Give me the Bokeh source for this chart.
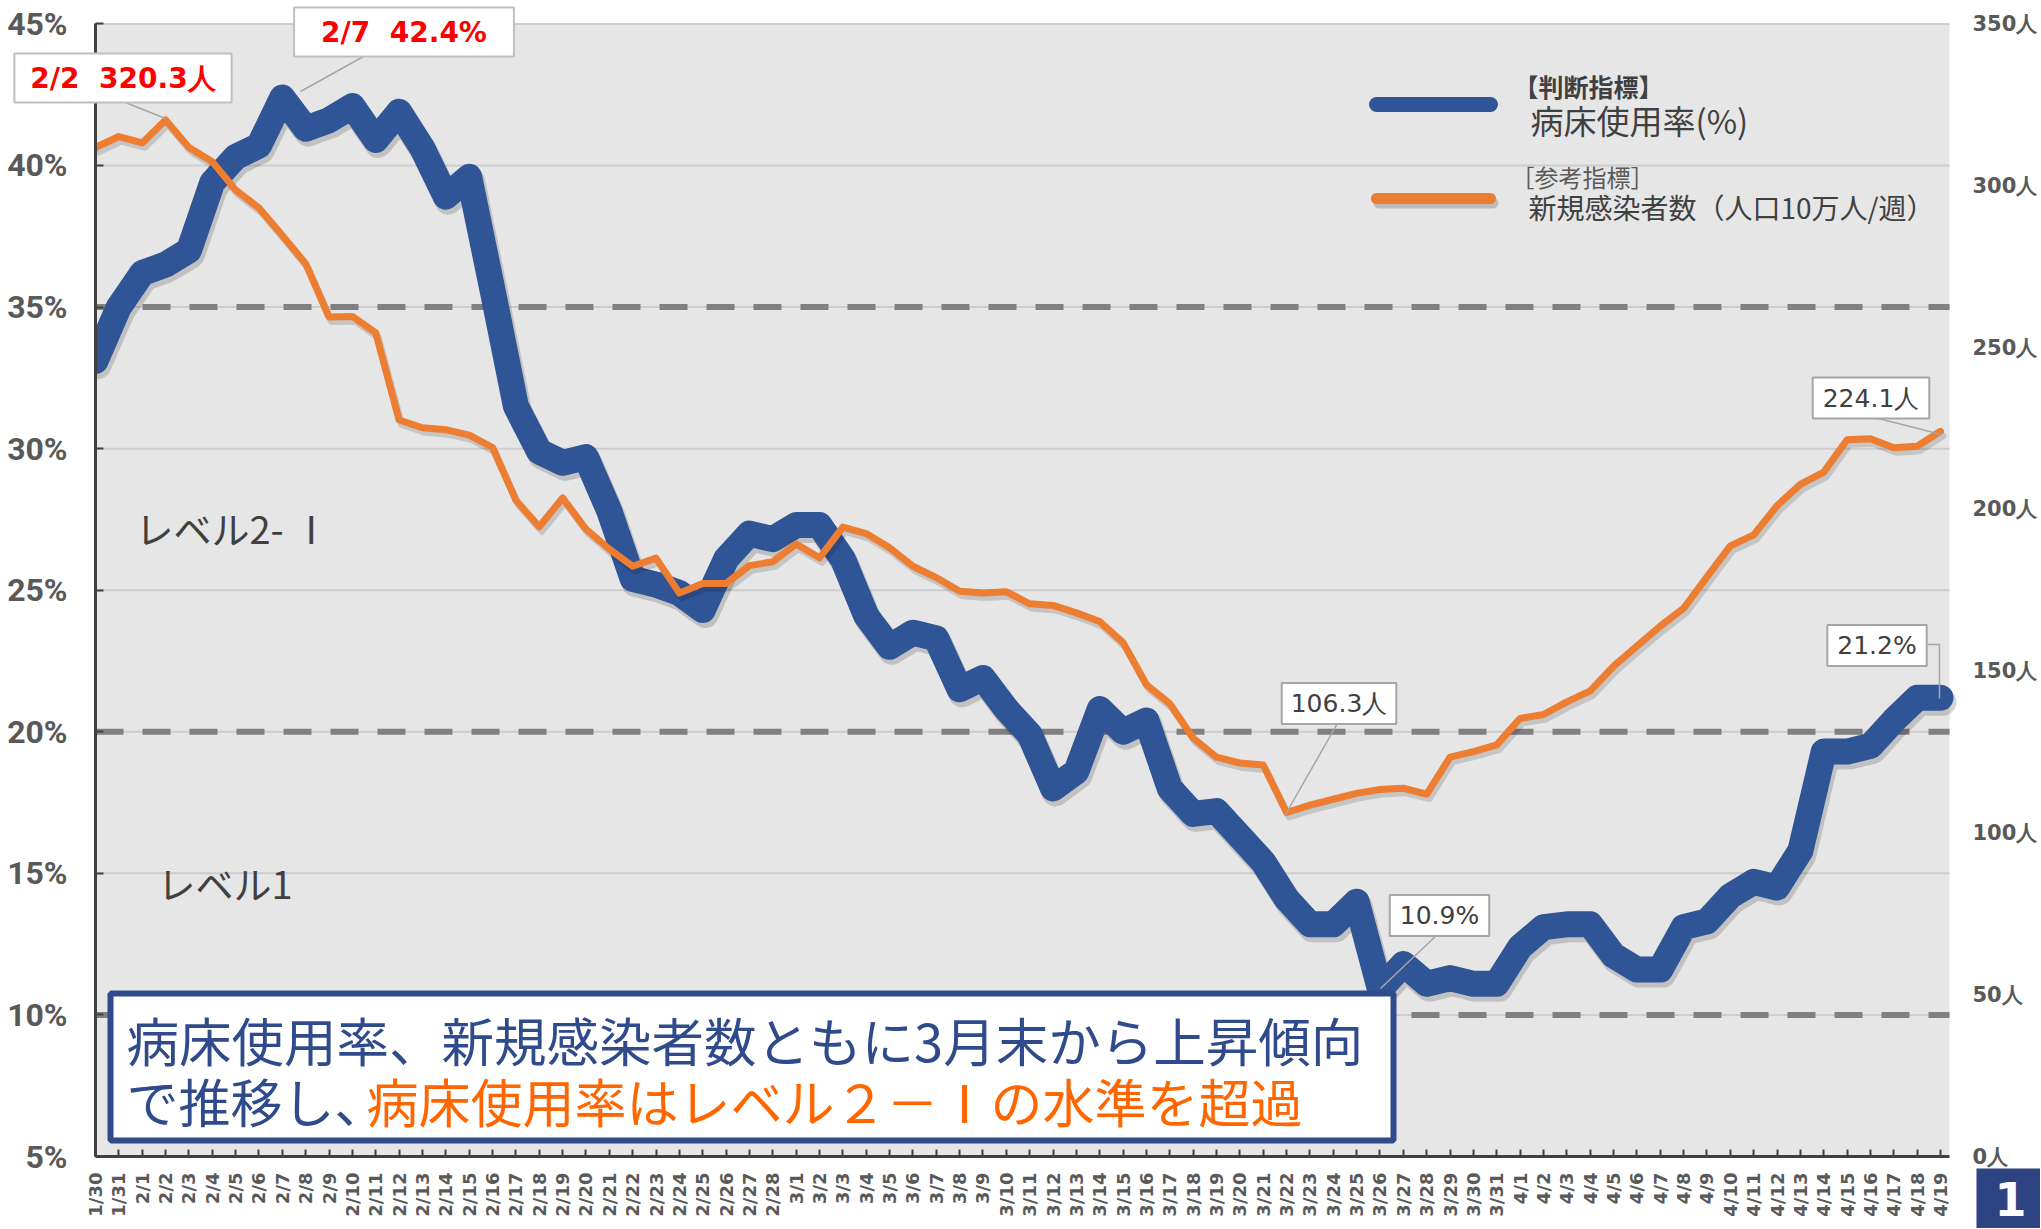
import math
from bokeh.plotting import figure
from bokeh.models import Range1d, LinearAxis, FixedTicker, Label, BoxAnnotation
from bokeh.embed import file_html
from bokeh.resources import INLINE

# ---------------- data ----------------
dates = ["1/30", "1/31",
         "2/1", "2/2", "2/3", "2/4", "2/5", "2/6", "2/7", "2/8", "2/9", "2/10",
         "2/11", "2/12", "2/13", "2/14", "2/15", "2/16", "2/17", "2/18", "2/19", "2/20",
         "2/21", "2/22", "2/23", "2/24", "2/25", "2/26", "2/27", "2/28",
         "3/1", "3/2", "3/3", "3/4", "3/5", "3/6", "3/7", "3/8", "3/9", "3/10",
         "3/11", "3/12", "3/13", "3/14", "3/15", "3/16", "3/17", "3/18", "3/19", "3/20",
         "3/21", "3/22", "3/23", "3/24", "3/25", "3/26", "3/27", "3/28", "3/29", "3/30", "3/31",
         "4/1", "4/2", "4/3", "4/4", "4/5", "4/6", "4/7", "4/8", "4/9", "4/10",
         "4/11", "4/12", "4/13", "4/14", "4/15", "4/16", "4/17", "4/18", "4/19"]

# 病床使用率 (%)
bed_rate = [33.1, 35.0, 36.2, 36.5, 37.0, 39.4, 40.3, 40.7, 42.4, 41.3,
            41.6, 42.1, 40.9, 41.9, 40.6, 38.9, 39.6, 35.6, 31.5, 29.9,
            29.5, 29.7, 27.8, 25.4, 25.2, 24.9, 24.3, 26.1, 27.0, 26.8,
            27.3, 27.3, 26.1, 24.1, 23.0, 23.5, 23.3, 21.5, 21.9, 20.8,
            19.9, 18.0, 18.6, 20.8, 20.0, 20.4, 18.0, 17.1, 17.2, 16.3,
            15.4, 14.1, 13.2, 13.2, 14.0, 10.9, 11.8, 11.1, 11.3, 11.1,
            11.1, 12.4, 13.1, 13.2, 13.2, 12.1, 11.6, 11.6, 13.1, 13.3,
            14.2, 14.7, 14.5, 15.8, 19.3, 19.3, 19.5, 20.4, 21.2, 21.2]

# 新規感染者数 (人口10万人/週)
new_cases = [311.8, 315.2, 313.2, 320.3, 311.8, 307.4, 298.7, 293.1, 284.6, 275.9,
             259.4, 259.6, 254.5, 227.6, 225.2, 224.6, 222.9, 219.1, 202.8, 194.6,
             203.5, 193.9, 187.7, 182.4, 184.9, 174.1, 177.1, 177.1, 182.6, 183.8,
             189.3, 185.0, 194.5, 192.5, 188.1, 182.4, 178.9, 174.7, 174.1, 174.5,
             170.8, 170.3, 168.0, 165.3, 158.8, 145.8, 139.9, 129.3, 123.4, 121.6,
             121.0, 106.3, 108.6, 110.4, 112.2, 113.4, 113.8, 112.0, 123.4, 125.1,
             127.2, 135.4, 136.6, 140.5, 143.9, 151.5, 157.7, 163.9, 169.4, 179.1,
             188.7, 192.1, 201.1, 207.7, 211.5, 221.5, 221.8, 219.0, 219.5, 224.1]

pct_ticks = [5, 10, 15, 20, 25, 30, 35, 40, 45]
people_ticks = [0, 50, 100, 150, 200, 250, 300, 350]
level_lines = [10, 20, 35]
PCT_MIN, PCT_MAX = 5, 45
PPL_MAX = 350

xs = list(range(len(dates)))

# ---------------- page geometry (pixels; the figure sits at the page origin) ----------------
W, H = 2040, 1228
AX_LEFT, AX_RIGHT = 95.0, 1949.0     # grey plot area, left / right
FIRST_PX, LAST_PX = 95.0, 1940.0     # first / last category
TOP_PX, BOT_PX = 23.4, 1156.0        # 45% / 5%
U = (LAST_PX - FIRST_PX) / (len(dates) - 1)        # px per category
V = (BOT_PX - TOP_PX) / (PCT_MAX - PCT_MIN)        # px per percent
K = PPL_MAX / (PCT_MAX - PCT_MIN)                  # people per percent


def X(px):
    return (px - FIRST_PX) / U


def Y(py):
    return PCT_MAX - (py - TOP_PX) / V


XBG = X(AX_RIGHT)
x0, x1 = X(0), X(W)
y0, y1 = Y(H), Y(0)

BLUE = "#2F5597"
ORANGE = "#ED7D31"
NAVY = "#2F4B8C"
TXT = "#404040"
AX = "#595959"
CJK = "Noto Sans CJK JP"

p = figure(width=W, height=H, title=None,
           x_range=Range1d(x0, x1), y_range=Range1d(y0, y1),
           output_backend="svg", toolbar_location=None,
           min_border=0, min_border_left=0, min_border_right=0,
           min_border_top=0, min_border_bottom=0,
           background_fill_color="white", border_fill_color="white",
           outline_line_color=None)

# shadow ranges: same scale shifted a few pixels right / down
sx, sy = 2.5 / U, 4.5 / V
p.extra_x_ranges = {"xs": Range1d(x0 - sx, x1 - sx)}
p.extra_y_ranges = {"people": Range1d((y0 - PCT_MIN) * K, (y1 - PCT_MIN) * K),
                    "ys": Range1d(y0 + sy, y1 + sy),
                    "ps": Range1d((y0 + sy - PCT_MIN) * K, (y1 + sy - PCT_MIN) * K)}

p.xgrid.visible = False
p.ygrid.visible = False

# grey plot area, grid lines and level lines
p.quad(left=[0], right=[XBG], bottom=[PCT_MIN], top=[PCT_MAX],
       fill_color="#E6E6E6", line_color=None)
p.segment(x0=[0] * len(pct_ticks), x1=[XBG] * len(pct_ticks),
          y0=pct_ticks, y1=pct_ticks, line_color="#CDCDCD", line_width=2)
p.segment(x0=[0] * len(level_lines), x1=[XBG] * len(level_lines),
          y0=level_lines, y1=level_lines, line_color="#808080",
          line_width=6, line_dash="28 19")

# left axis (percent)
ya = p.yaxis[0]
ya.fixed_location = 0
ya.bounds = (PCT_MIN, PCT_MAX)
ya.ticker = FixedTicker(ticks=pct_ticks)
ya.major_label_overrides = {t: f"{t}%" for t in pct_ticks}
ya.major_label_text_font = "Roboto"
ya.major_label_text_font_style = "bold"
ya.major_label_text_font_size = "32px"
ya.major_label_text_color = AX
ya.major_label_standoff = 28
ya.axis_line_color = TXT
ya.axis_line_width = 3
ya.major_tick_in = 8
ya.major_tick_out = 0
ya.major_tick_line_color = TXT
ya.major_tick_line_width = 2
ya.minor_tick_line_color = None

# bottom axis (dates)
xa = p.xaxis[0]
xa.fixed_location = PCT_MIN
xa.bounds = (0, XBG)
xa.ticker = FixedTicker(ticks=xs)
xa.major_label_overrides = {i: d for i, d in zip(xs, dates)}
xa.major_label_orientation = math.pi / 2
xa.major_label_text_font = "DejaVu Sans"
xa.major_label_text_font_style = "bold"
xa.major_label_text_font_size = "18px"
xa.major_label_text_color = AX
xa.major_label_standoff = 16
xa.axis_line_color = TXT
xa.axis_line_width = 3
xa.major_tick_in = 7
xa.major_tick_out = 0
xa.major_tick_line_color = TXT
xa.major_tick_line_width = 2
xa.minor_tick_line_color = None

# right axis (people)
ra = LinearAxis(y_range_name="people", ticker=FixedTicker(ticks=people_ticks),
                fixed_location=XBG, bounds=(0, PPL_MAX))
ra.major_label_overrides = {t: f"{t}人" for t in people_ticks}
ra.major_label_text_font = "DejaVu Sans"
ra.major_label_text_font_style = "bold"
ra.major_label_text_font_size = "21px"
ra.major_label_text_color = AX
ra.major_label_standoff = 23
ra.axis_line_color = None
ra.major_tick_line_color = None
ra.major_tick_in = 0
ra.major_tick_out = 0
ra.minor_tick_line_color = None
p.add_layout(ra, "right")

# data lines with soft shadows
p.line(xs, bed_rate, x_range_name="xs", y_range_name="ys", line_width=27,
       line_color="black", line_alpha=0.16, line_join="round", line_cap="round")
p.line(xs, bed_rate, line_width=26, line_color=BLUE,
       line_join="round", line_cap="round")
p.line(xs, new_cases, x_range_name="xs", y_range_name="ps", line_width=7,
       line_color="black", line_alpha=0.14, line_join="round", line_cap="round")
p.line(xs, new_cases, y_range_name="people", line_width=7, line_color=ORANGE,
       line_join="round", line_cap="round")

# keep the thick line from spilling left of the axis
p.quad(left=[x0], right=[0], bottom=[PCT_MIN], top=[PCT_MAX],
       fill_color="white", line_color=None)

# legend (manual)
p.segment(x0=[X(1376)], y0=[Y(104)], x1=[X(1490)], y1=[Y(104)],
          line_width=15, line_color=BLUE, line_cap="round")
p.segment(x0=[X(1376)], y0=[Y(198)], x1=[X(1490)], y1=[Y(198)],
          x_range_name="xs", y_range_name="ys",
          line_width=11, line_color="black", line_alpha=0.18, line_cap="round")
p.segment(x0=[X(1376)], y0=[Y(198)], x1=[X(1490)], y1=[Y(198)],
          line_width=11, line_color=ORANGE, line_cap="round")

p.add_layout(Label(x=X(1513), y=Y(85), text="【判断指標】", text_font=CJK,
                   text_font_style="bold", text_font_size="25px", text_color=TXT,
                   text_baseline="middle"))
p.add_layout(Label(x=X(1530), y=Y(119), text="病床使用率(%)", text_font=CJK,
                   text_font_size="33px", text_color=TXT, text_baseline="middle"))
p.add_layout(Label(x=X(1510), y=Y(176), text="［参考指標］", text_font=CJK,
                   text_font_size="24px", text_color=AX, text_baseline="middle"))
p.add_layout(Label(x=X(1528), y=Y(206), text="新規感染者数（人口10万人/週）", text_font=CJK,
                   text_font_size="28px", text_color=TXT, text_baseline="middle"))

# level names
p.add_layout(Label(x=X(135), y=Y(527), text="レベル2- Ⅰ", text_font=CJK,
                   text_font_size="38px", text_color=TXT, text_baseline="middle"))
p.add_layout(Label(x=X(157), y=Y(882), text="レベル1", text_font=CJK,
                   text_font_size="38px", text_color=TXT, text_baseline="middle"))

# leader lines
lead = "#A6A6A6"
p.segment(x0=[X(363), X(125), X(1338), X(1438), X(1870)],
          y0=[Y(56), Y(102), Y(721), Y(933), Y(416)],
          x1=[X(300), X(165), X(1285), X(1380), X(1941)],
          y1=[Y(91), Y(118), Y(814), Y(988), Y(434)],
          line_color=lead, line_width=1.5)
p.line([X(1927), X(1939), X(1939)], [Y(644), Y(644), Y(698)],
       line_color=lead, line_width=1.5)


def callout(cx, cy, text, color, size, bold, pad_x, pad_y, border):
    p.add_layout(Label(x=X(cx), y=Y(cy), text=text, text_font="DejaVu Sans",
                       text_font_style="bold" if bold else "normal",
                       text_font_size=size, text_color=color,
                       text_align="center", text_baseline="middle",
                       background_fill_color="white", background_fill_alpha=1.0,
                       border_line_color=border, border_line_width=2,
                       padding=dict(left=pad_x, right=pad_x, top=pad_y, bottom=pad_y)))


callout(403.5, 31.5, "2/7 \u00a042.4%", "#FF0000", "28px", True, 27, 8, "#BFBFBF")
callout(122.5, 77.5, "2/2 \u00a0320.3人", "#FF0000", "28px", True, 16, 8, "#BFBFBF")
callout(1338.5, 703, "106.3人", TXT, "25px", False, 9, 6, lead)
callout(1439.0, 915, "10.9%", TXT, "25px", False, 10, 6, lead)
callout(1870.5, 397.5, "224.1人", TXT, "25px", False, 10, 6, lead)
callout(1876.5, 645, "21.2%", TXT, "25px", False, 10, 6, lead)

# summary text box
p.add_layout(BoxAnnotation(left=X(110), right=X(1393), top=Y(993), bottom=Y(1140),
                           fill_color="white", fill_alpha=1.0,
                           line_color=NAVY, line_width=6, line_alpha=1.0))
p.add_layout(Label(x=X(126), y=Y(1038), text="病床使用率、新規感染者数ともに3月末から上昇傾向",
                   text_font=CJK, text_font_size="52.5px", text_color=NAVY,
                   text_baseline="middle"))
p.add_layout(Label(x=X(126), y=Y(1100), text="で推移し、",
                   text_font=CJK, text_font_size="52px", text_color=NAVY,
                   text_baseline="middle"))
p.add_layout(Label(x=X(366), y=Y(1100), text="病床使用率はレベル２－Ⅰの水準を超過",
                   text_font=CJK, text_font_size="52px", text_color="#FF6600",
                   text_baseline="middle"))

# page number badge (box runs off the page corner; the digit stays inside)
p.quad(left=[X(1976)], right=[x1], bottom=[y0], top=[Y(1168)],
       fill_color="#2E4482", line_color=None)
p.add_layout(Label(x=X(2010), y=Y(1198), text="1", text_font="DejaVu Sans",
                   text_font_style="bold", text_font_size="46px", text_color="white",
                   text_align="center", text_baseline="middle"))

open("out.html", "w").write(file_html(p, INLINE))
